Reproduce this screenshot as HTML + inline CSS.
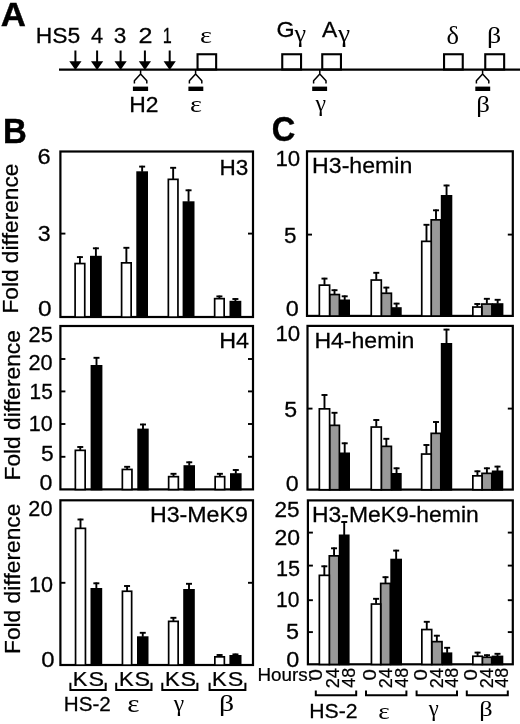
<!DOCTYPE html>
<html><head><meta charset="utf-8"><title>Figure</title>
<style>
html,body{margin:0;padding:0;background:#fff}
svg{display:block}
text{font-size:20px;fill:#000;font-kerning:none}
.ss{stroke:#000;stroke-width:0.25}
.ss{font-family:"Liberation Sans",Arial,Helvetica,sans-serif}
.se{font-family:"Liberation Serif","DejaVu Serif",serif}
.b{font-weight:bold}
</style></head><body>
<svg width="520" height="724" viewBox="0 0 520 724" stroke="#000">
<rect x="0" y="0" width="520" height="724" fill="#fff" stroke="none"/>
<g>
<line x1="59.00" y1="69.60" x2="520.00" y2="69.60" stroke-width="2.40"/>
<line x1="75.40" y1="50.50" x2="75.40" y2="63.00" stroke-width="2.00"/>
<path d="M69.30 61.3 H81.50 L75.40 70.00 Z" fill="#000" stroke="none"/>
<line x1="97.10" y1="50.50" x2="97.10" y2="63.00" stroke-width="2.00"/>
<path d="M91.00 61.3 H103.20 L97.10 70.00 Z" fill="#000" stroke="none"/>
<line x1="120.60" y1="50.50" x2="120.60" y2="63.00" stroke-width="2.00"/>
<path d="M114.50 61.3 H126.70 L120.60 70.00 Z" fill="#000" stroke="none"/>
<line x1="144.90" y1="50.50" x2="144.90" y2="63.00" stroke-width="2.00"/>
<path d="M138.80 61.3 H151.00 L144.90 70.00 Z" fill="#000" stroke="none"/>
<line x1="169.70" y1="50.50" x2="169.70" y2="63.00" stroke-width="2.00"/>
<path d="M163.60 61.3 H175.80 L169.70 70.00 Z" fill="#000" stroke="none"/>
<rect x="197.55" y="54.25" width="18.60" height="15.30" fill="none" stroke-width="2.10"/>
<rect x="282.25" y="54.25" width="18.80" height="15.30" fill="none" stroke-width="2.10"/>
<rect x="322.25" y="54.25" width="18.70" height="15.30" fill="none" stroke-width="2.10"/>
<rect x="444.05" y="54.25" width="18.70" height="15.30" fill="none" stroke-width="2.10"/>
<rect x="485.25" y="54.25" width="18.90" height="15.30" fill="none" stroke-width="2.10"/>
<path d="M140.60 69.60 V74 M134.40 83.6 V80.8 L140.60 73.9 L146.80 80.8 V83.6" fill="none" stroke-width="1.5" stroke-linejoin="round"/>
<rect x="132.90" y="86.60" width="15.20" height="4.40" fill="#000" stroke="none"/>
<path d="M195.60 69.60 V74 M189.40 83.6 V80.8 L195.60 73.9 L201.80 80.8 V83.6" fill="none" stroke-width="1.5" stroke-linejoin="round"/>
<rect x="188.40" y="86.60" width="14.90" height="4.40" fill="#000" stroke="none"/>
<path d="M319.80 69.60 V74 M313.60 83.6 V80.8 L319.80 73.9 L326.00 80.8 V83.6" fill="none" stroke-width="1.5" stroke-linejoin="round"/>
<rect x="312.20" y="86.60" width="14.90" height="4.40" fill="#000" stroke="none"/>
<path d="M482.60 69.60 V74 M476.40 83.6 V80.8 L482.60 73.9 L488.80 80.8 V83.6" fill="none" stroke-width="1.5" stroke-linejoin="round"/>
<rect x="475.30" y="86.60" width="14.90" height="4.40" fill="#000" stroke="none"/>
<rect x="60.40" y="151.50" width="192.60" height="165.50" fill="none" stroke-width="2.2"/>
<line x1="60.40" y1="233.60" x2="65.40" y2="233.60" stroke-width="1.90"/>
<line x1="248.00" y1="233.60" x2="253.00" y2="233.60" stroke-width="1.90"/>
<line x1="79.92" y1="256.30" x2="79.92" y2="263.20" stroke-width="1.90"/>
<line x1="76.92" y1="257.10" x2="82.92" y2="257.10" stroke-width="1.90"/>
<rect x="75.10" y="263.55" width="9.65" height="53.60" fill="#fff" stroke-width="1.70"/>
<line x1="95.90" y1="247.50" x2="95.90" y2="256.30" stroke-width="1.90"/>
<line x1="92.90" y1="248.30" x2="98.90" y2="248.30" stroke-width="1.90"/>
<rect x="90.00" y="255.80" width="11.80" height="62.20" fill="#000" stroke="none"/>
<line x1="126.38" y1="247.00" x2="126.38" y2="262.50" stroke-width="1.90"/>
<line x1="123.38" y1="247.80" x2="129.38" y2="247.80" stroke-width="1.90"/>
<rect x="121.60" y="262.85" width="9.55" height="54.30" fill="#fff" stroke-width="1.70"/>
<line x1="142.15" y1="165.80" x2="142.15" y2="171.80" stroke-width="1.90"/>
<line x1="139.15" y1="166.60" x2="145.15" y2="166.60" stroke-width="1.90"/>
<rect x="136.30" y="171.30" width="11.70" height="146.70" fill="#000" stroke="none"/>
<line x1="173.15" y1="167.00" x2="173.15" y2="179.00" stroke-width="1.90"/>
<line x1="170.15" y1="167.80" x2="176.15" y2="167.80" stroke-width="1.90"/>
<rect x="168.35" y="179.35" width="9.60" height="137.80" fill="#fff" stroke-width="1.70"/>
<line x1="188.55" y1="189.50" x2="188.55" y2="201.80" stroke-width="1.90"/>
<line x1="185.55" y1="190.30" x2="191.55" y2="190.30" stroke-width="1.90"/>
<rect x="182.60" y="201.30" width="11.90" height="116.70" fill="#000" stroke="none"/>
<line x1="219.40" y1="295.60" x2="219.40" y2="298.30" stroke-width="1.90"/>
<line x1="216.40" y1="296.40" x2="222.40" y2="296.40" stroke-width="1.90"/>
<rect x="214.65" y="298.65" width="9.50" height="18.50" fill="#fff" stroke-width="1.70"/>
<line x1="235.40" y1="298.20" x2="235.40" y2="301.30" stroke-width="1.90"/>
<line x1="232.40" y1="299.00" x2="238.40" y2="299.00" stroke-width="1.90"/>
<rect x="229.50" y="300.80" width="11.80" height="17.20" fill="#000" stroke="none"/>
<rect x="60.40" y="326.00" width="192.60" height="163.40" fill="none" stroke-width="2.2"/>
<line x1="60.40" y1="359.00" x2="65.40" y2="359.00" stroke-width="1.90"/>
<line x1="248.00" y1="359.00" x2="253.00" y2="359.00" stroke-width="1.90"/>
<line x1="60.40" y1="391.40" x2="65.40" y2="391.40" stroke-width="1.90"/>
<line x1="248.00" y1="391.40" x2="253.00" y2="391.40" stroke-width="1.90"/>
<line x1="60.40" y1="424.00" x2="65.40" y2="424.00" stroke-width="1.90"/>
<line x1="248.00" y1="424.00" x2="253.00" y2="424.00" stroke-width="1.90"/>
<line x1="60.40" y1="456.80" x2="65.40" y2="456.80" stroke-width="1.90"/>
<line x1="248.00" y1="456.80" x2="253.00" y2="456.80" stroke-width="1.90"/>
<line x1="80.25" y1="446.20" x2="80.25" y2="450.00" stroke-width="1.90"/>
<line x1="77.25" y1="447.00" x2="83.25" y2="447.00" stroke-width="1.90"/>
<rect x="75.35" y="450.35" width="9.80" height="39.20" fill="#fff" stroke-width="1.70"/>
<line x1="96.50" y1="357.00" x2="96.50" y2="365.50" stroke-width="1.90"/>
<line x1="93.50" y1="357.80" x2="99.50" y2="357.80" stroke-width="1.90"/>
<rect x="90.60" y="365.00" width="11.80" height="125.40" fill="#000" stroke="none"/>
<line x1="127.15" y1="466.00" x2="127.15" y2="469.10" stroke-width="1.90"/>
<line x1="124.15" y1="466.80" x2="130.15" y2="466.80" stroke-width="1.90"/>
<rect x="122.35" y="469.45" width="9.60" height="20.10" fill="#fff" stroke-width="1.70"/>
<line x1="143.00" y1="423.70" x2="143.00" y2="429.10" stroke-width="1.90"/>
<line x1="140.00" y1="424.50" x2="146.00" y2="424.50" stroke-width="1.90"/>
<rect x="137.30" y="428.60" width="11.40" height="61.80" fill="#000" stroke="none"/>
<line x1="173.50" y1="473.00" x2="173.50" y2="476.30" stroke-width="1.90"/>
<line x1="170.50" y1="473.80" x2="176.50" y2="473.80" stroke-width="1.90"/>
<rect x="168.65" y="476.65" width="9.70" height="12.90" fill="#fff" stroke-width="1.70"/>
<line x1="189.25" y1="461.50" x2="189.25" y2="465.70" stroke-width="1.90"/>
<line x1="186.25" y1="462.30" x2="192.25" y2="462.30" stroke-width="1.90"/>
<rect x="183.50" y="465.20" width="11.50" height="25.20" fill="#000" stroke="none"/>
<line x1="219.90" y1="473.00" x2="219.90" y2="476.30" stroke-width="1.90"/>
<line x1="216.90" y1="473.80" x2="222.90" y2="473.80" stroke-width="1.90"/>
<rect x="215.15" y="476.65" width="9.50" height="12.90" fill="#fff" stroke-width="1.70"/>
<line x1="235.80" y1="469.20" x2="235.80" y2="473.70" stroke-width="1.90"/>
<line x1="232.80" y1="470.00" x2="238.80" y2="470.00" stroke-width="1.90"/>
<rect x="230.00" y="473.20" width="11.60" height="17.20" fill="#000" stroke="none"/>
<rect x="60.40" y="500.30" width="192.60" height="164.70" fill="none" stroke-width="2.2"/>
<line x1="60.40" y1="582.80" x2="65.40" y2="582.80" stroke-width="1.90"/>
<line x1="248.00" y1="582.80" x2="253.00" y2="582.80" stroke-width="1.90"/>
<line x1="80.50" y1="518.70" x2="80.50" y2="528.00" stroke-width="1.90"/>
<line x1="77.50" y1="519.50" x2="83.50" y2="519.50" stroke-width="1.90"/>
<rect x="75.55" y="528.35" width="9.90" height="136.80" fill="#fff" stroke-width="1.70"/>
<line x1="96.35" y1="582.50" x2="96.35" y2="588.50" stroke-width="1.90"/>
<line x1="93.35" y1="583.30" x2="99.35" y2="583.30" stroke-width="1.90"/>
<rect x="90.50" y="588.00" width="11.70" height="78.00" fill="#000" stroke="none"/>
<line x1="127.05" y1="585.20" x2="127.05" y2="590.90" stroke-width="1.90"/>
<line x1="124.05" y1="586.00" x2="130.05" y2="586.00" stroke-width="1.90"/>
<rect x="122.45" y="591.25" width="9.20" height="73.90" fill="#fff" stroke-width="1.70"/>
<line x1="142.75" y1="632.00" x2="142.75" y2="636.80" stroke-width="1.90"/>
<line x1="139.75" y1="632.80" x2="145.75" y2="632.80" stroke-width="1.90"/>
<rect x="137.00" y="636.30" width="11.50" height="29.70" fill="#000" stroke="none"/>
<line x1="173.40" y1="617.00" x2="173.40" y2="621.00" stroke-width="1.90"/>
<line x1="170.40" y1="617.80" x2="176.40" y2="617.80" stroke-width="1.90"/>
<rect x="168.65" y="621.35" width="9.50" height="43.80" fill="#fff" stroke-width="1.70"/>
<line x1="189.00" y1="583.00" x2="189.00" y2="589.50" stroke-width="1.90"/>
<line x1="186.00" y1="583.80" x2="192.00" y2="583.80" stroke-width="1.90"/>
<rect x="183.20" y="589.00" width="11.60" height="77.00" fill="#000" stroke="none"/>
<line x1="219.60" y1="654.20" x2="219.60" y2="656.50" stroke-width="1.90"/>
<line x1="216.60" y1="655.00" x2="222.60" y2="655.00" stroke-width="1.90"/>
<rect x="214.85" y="656.85" width="9.50" height="8.30" fill="#fff" stroke-width="1.70"/>
<line x1="235.45" y1="653.60" x2="235.45" y2="655.50" stroke-width="1.90"/>
<line x1="232.45" y1="654.40" x2="238.45" y2="654.40" stroke-width="1.90"/>
<rect x="229.40" y="655.00" width="12.10" height="11.00" fill="#000" stroke="none"/>
<path d="M70.40 682.8 V689.9 H105.70 V682.8" fill="none" stroke-width="2"/>
<path d="M116.20 682.8 V689.9 H151.50 V682.8" fill="none" stroke-width="2"/>
<path d="M162.30 682.8 V689.9 H197.40 V682.8" fill="none" stroke-width="2"/>
<path d="M209.60 682.8 V689.9 H245.40 V682.8" fill="none" stroke-width="2"/>
<rect x="307.00" y="151.30" width="205.80" height="164.60" fill="none" stroke-width="2.2"/>
<line x1="307.00" y1="234.60" x2="312.00" y2="234.60" stroke-width="1.90"/>
<line x1="507.80" y1="234.60" x2="512.80" y2="234.60" stroke-width="1.90"/>
<line x1="344.70" y1="295.50" x2="344.70" y2="300.00" stroke-width="1.90"/>
<line x1="341.70" y1="296.30" x2="347.70" y2="296.30" stroke-width="1.90"/>
<rect x="339.40" y="299.50" width="10.60" height="17.40" fill="#000" stroke="none"/>
<line x1="396.55" y1="302.80" x2="396.55" y2="307.70" stroke-width="1.90"/>
<line x1="393.55" y1="303.60" x2="399.55" y2="303.60" stroke-width="1.90"/>
<rect x="391.40" y="307.20" width="10.30" height="9.70" fill="#000" stroke="none"/>
<line x1="446.55" y1="184.70" x2="446.55" y2="195.50" stroke-width="1.90"/>
<line x1="443.55" y1="185.50" x2="449.55" y2="185.50" stroke-width="1.90"/>
<rect x="440.80" y="195.00" width="11.50" height="121.90" fill="#000" stroke="none"/>
<line x1="497.65" y1="299.00" x2="497.65" y2="303.70" stroke-width="1.90"/>
<line x1="494.65" y1="299.80" x2="500.65" y2="299.80" stroke-width="1.90"/>
<rect x="491.90" y="303.20" width="11.50" height="13.70" fill="#000" stroke="none"/>
<line x1="334.50" y1="289.40" x2="334.50" y2="294.20" stroke-width="1.90"/>
<line x1="331.50" y1="290.20" x2="337.50" y2="290.20" stroke-width="1.90"/>
<rect x="329.60" y="294.55" width="9.80" height="21.50" fill="#999" stroke-width="1.70"/>
<line x1="386.35" y1="286.80" x2="386.35" y2="292.90" stroke-width="1.90"/>
<line x1="383.35" y1="287.60" x2="389.35" y2="287.60" stroke-width="1.90"/>
<rect x="381.30" y="293.25" width="10.10" height="22.80" fill="#999" stroke-width="1.70"/>
<line x1="436.00" y1="209.50" x2="436.00" y2="219.50" stroke-width="1.90"/>
<line x1="433.00" y1="210.30" x2="439.00" y2="210.30" stroke-width="1.90"/>
<rect x="431.20" y="219.85" width="9.60" height="96.20" fill="#999" stroke-width="1.70"/>
<line x1="486.85" y1="298.00" x2="486.85" y2="303.70" stroke-width="1.90"/>
<line x1="483.85" y1="298.80" x2="489.85" y2="298.80" stroke-width="1.90"/>
<rect x="481.80" y="304.05" width="10.10" height="12.00" fill="#999" stroke-width="1.70"/>
<line x1="324.48" y1="277.80" x2="324.48" y2="284.80" stroke-width="1.90"/>
<line x1="321.48" y1="278.60" x2="327.48" y2="278.60" stroke-width="1.90"/>
<rect x="319.35" y="285.15" width="10.25" height="30.90" fill="#fff" stroke-width="1.70"/>
<line x1="376.27" y1="272.00" x2="376.27" y2="279.70" stroke-width="1.90"/>
<line x1="373.27" y1="272.80" x2="379.27" y2="272.80" stroke-width="1.90"/>
<rect x="371.25" y="280.05" width="10.05" height="36.00" fill="#fff" stroke-width="1.70"/>
<line x1="426.48" y1="224.00" x2="426.48" y2="241.00" stroke-width="1.90"/>
<line x1="423.48" y1="224.80" x2="429.48" y2="224.80" stroke-width="1.90"/>
<rect x="421.75" y="241.35" width="9.45" height="74.70" fill="#fff" stroke-width="1.70"/>
<line x1="477.33" y1="303.20" x2="477.33" y2="306.70" stroke-width="1.90"/>
<line x1="474.33" y1="304.00" x2="480.33" y2="304.00" stroke-width="1.90"/>
<rect x="472.85" y="307.05" width="8.95" height="9.00" fill="#fff" stroke-width="1.70"/>
<rect x="307.50" y="325.90" width="205.30" height="163.70" fill="none" stroke-width="2.2"/>
<line x1="307.50" y1="408.60" x2="312.50" y2="408.60" stroke-width="1.90"/>
<line x1="507.80" y1="408.60" x2="512.80" y2="408.60" stroke-width="1.90"/>
<line x1="344.70" y1="442.50" x2="344.70" y2="453.00" stroke-width="1.90"/>
<line x1="341.70" y1="443.30" x2="347.70" y2="443.30" stroke-width="1.90"/>
<rect x="339.40" y="452.50" width="10.60" height="38.10" fill="#000" stroke="none"/>
<line x1="396.55" y1="467.50" x2="396.55" y2="473.50" stroke-width="1.90"/>
<line x1="393.55" y1="468.30" x2="399.55" y2="468.30" stroke-width="1.90"/>
<rect x="391.40" y="473.00" width="10.30" height="17.60" fill="#000" stroke="none"/>
<line x1="446.50" y1="328.80" x2="446.50" y2="343.50" stroke-width="1.90"/>
<line x1="443.50" y1="329.60" x2="449.50" y2="329.60" stroke-width="1.90"/>
<rect x="440.80" y="343.00" width="11.40" height="147.60" fill="#000" stroke="none"/>
<line x1="497.50" y1="465.80" x2="497.50" y2="471.00" stroke-width="1.90"/>
<line x1="494.50" y1="466.60" x2="500.50" y2="466.60" stroke-width="1.90"/>
<rect x="491.80" y="470.50" width="11.40" height="20.10" fill="#000" stroke="none"/>
<line x1="334.50" y1="412.00" x2="334.50" y2="425.00" stroke-width="1.90"/>
<line x1="331.50" y1="412.80" x2="337.50" y2="412.80" stroke-width="1.90"/>
<rect x="329.60" y="425.35" width="9.80" height="64.40" fill="#999" stroke-width="1.70"/>
<line x1="386.35" y1="438.00" x2="386.35" y2="446.00" stroke-width="1.90"/>
<line x1="383.35" y1="438.80" x2="389.35" y2="438.80" stroke-width="1.90"/>
<rect x="381.30" y="446.35" width="10.10" height="43.40" fill="#999" stroke-width="1.70"/>
<line x1="436.00" y1="421.20" x2="436.00" y2="433.00" stroke-width="1.90"/>
<line x1="433.00" y1="422.00" x2="439.00" y2="422.00" stroke-width="1.90"/>
<rect x="431.20" y="433.35" width="9.60" height="56.40" fill="#999" stroke-width="1.70"/>
<line x1="486.90" y1="467.50" x2="486.90" y2="473.00" stroke-width="1.90"/>
<line x1="483.90" y1="468.30" x2="489.90" y2="468.30" stroke-width="1.90"/>
<rect x="482.00" y="473.35" width="9.80" height="16.40" fill="#999" stroke-width="1.70"/>
<line x1="324.48" y1="394.20" x2="324.48" y2="408.50" stroke-width="1.90"/>
<line x1="321.48" y1="395.00" x2="327.48" y2="395.00" stroke-width="1.90"/>
<rect x="319.35" y="408.85" width="10.25" height="80.90" fill="#fff" stroke-width="1.70"/>
<line x1="376.27" y1="419.20" x2="376.27" y2="426.70" stroke-width="1.90"/>
<line x1="373.27" y1="420.00" x2="379.27" y2="420.00" stroke-width="1.90"/>
<rect x="371.25" y="427.05" width="10.05" height="62.70" fill="#fff" stroke-width="1.70"/>
<line x1="426.43" y1="444.20" x2="426.43" y2="453.70" stroke-width="1.90"/>
<line x1="423.43" y1="445.00" x2="429.43" y2="445.00" stroke-width="1.90"/>
<rect x="421.65" y="454.05" width="9.55" height="35.70" fill="#fff" stroke-width="1.70"/>
<line x1="477.43" y1="470.50" x2="477.43" y2="475.50" stroke-width="1.90"/>
<line x1="474.43" y1="471.30" x2="480.43" y2="471.30" stroke-width="1.90"/>
<rect x="472.85" y="475.85" width="9.15" height="13.90" fill="#fff" stroke-width="1.70"/>
<rect x="307.90" y="500.40" width="204.90" height="163.90" fill="none" stroke-width="2.2"/>
<line x1="307.90" y1="532.60" x2="312.90" y2="532.60" stroke-width="1.90"/>
<line x1="507.80" y1="532.60" x2="512.80" y2="532.60" stroke-width="1.90"/>
<line x1="307.90" y1="565.60" x2="312.90" y2="565.60" stroke-width="1.90"/>
<line x1="507.80" y1="565.60" x2="512.80" y2="565.60" stroke-width="1.90"/>
<line x1="307.90" y1="600.20" x2="312.90" y2="600.20" stroke-width="1.90"/>
<line x1="507.80" y1="600.20" x2="512.80" y2="600.20" stroke-width="1.90"/>
<line x1="307.90" y1="632.10" x2="312.90" y2="632.10" stroke-width="1.90"/>
<line x1="507.80" y1="632.10" x2="512.80" y2="632.10" stroke-width="1.90"/>
<line x1="344.20" y1="521.20" x2="344.20" y2="535.00" stroke-width="1.90"/>
<line x1="341.20" y1="522.00" x2="347.20" y2="522.00" stroke-width="1.90"/>
<rect x="338.80" y="534.50" width="10.80" height="130.80" fill="#000" stroke="none"/>
<line x1="396.15" y1="549.80" x2="396.15" y2="559.20" stroke-width="1.90"/>
<line x1="393.15" y1="550.60" x2="399.15" y2="550.60" stroke-width="1.90"/>
<rect x="390.30" y="558.70" width="11.70" height="106.60" fill="#000" stroke="none"/>
<line x1="447.15" y1="647.00" x2="447.15" y2="652.90" stroke-width="1.90"/>
<line x1="444.15" y1="647.80" x2="450.15" y2="647.80" stroke-width="1.90"/>
<rect x="442.00" y="652.40" width="10.30" height="12.90" fill="#000" stroke="none"/>
<line x1="497.50" y1="653.00" x2="497.50" y2="656.10" stroke-width="1.90"/>
<line x1="494.50" y1="653.80" x2="500.50" y2="653.80" stroke-width="1.90"/>
<rect x="491.70" y="655.60" width="11.60" height="9.70" fill="#000" stroke="none"/>
<line x1="334.05" y1="547.50" x2="334.05" y2="555.50" stroke-width="1.90"/>
<line x1="331.05" y1="548.30" x2="337.05" y2="548.30" stroke-width="1.90"/>
<rect x="329.30" y="555.85" width="9.50" height="108.60" fill="#999" stroke-width="1.70"/>
<line x1="385.50" y1="576.40" x2="385.50" y2="583.10" stroke-width="1.90"/>
<line x1="382.50" y1="577.20" x2="388.50" y2="577.20" stroke-width="1.90"/>
<rect x="380.70" y="583.45" width="9.60" height="81.00" fill="#999" stroke-width="1.70"/>
<line x1="436.85" y1="634.90" x2="436.85" y2="641.30" stroke-width="1.90"/>
<line x1="433.85" y1="635.70" x2="439.85" y2="635.70" stroke-width="1.90"/>
<rect x="431.70" y="641.65" width="10.30" height="22.80" fill="#999" stroke-width="1.70"/>
<line x1="487.00" y1="654.40" x2="487.00" y2="656.90" stroke-width="1.90"/>
<line x1="484.00" y1="655.20" x2="490.00" y2="655.20" stroke-width="1.90"/>
<rect x="482.30" y="657.25" width="9.40" height="7.20" fill="#999" stroke-width="1.70"/>
<line x1="324.33" y1="565.50" x2="324.33" y2="575.00" stroke-width="1.90"/>
<line x1="321.33" y1="566.30" x2="327.33" y2="566.30" stroke-width="1.90"/>
<rect x="319.35" y="575.35" width="9.95" height="89.10" fill="#fff" stroke-width="1.70"/>
<line x1="376.08" y1="598.00" x2="376.08" y2="603.70" stroke-width="1.90"/>
<line x1="373.08" y1="598.80" x2="379.08" y2="598.80" stroke-width="1.90"/>
<rect x="371.45" y="604.05" width="9.25" height="60.40" fill="#fff" stroke-width="1.70"/>
<line x1="426.77" y1="621.00" x2="426.77" y2="629.20" stroke-width="1.90"/>
<line x1="423.77" y1="621.80" x2="429.77" y2="621.80" stroke-width="1.90"/>
<rect x="421.85" y="629.55" width="9.85" height="34.90" fill="#fff" stroke-width="1.70"/>
<line x1="477.58" y1="651.80" x2="477.58" y2="655.90" stroke-width="1.90"/>
<line x1="474.58" y1="652.60" x2="480.58" y2="652.60" stroke-width="1.90"/>
<rect x="472.85" y="656.25" width="9.45" height="8.20" fill="#fff" stroke-width="1.70"/>
<path d="M315.80 690.5 V695.3 H356.20 V690.5" fill="none" stroke-width="2"/>
<path d="M366.00 690.5 V695.3 H406.40 V690.5" fill="none" stroke-width="2"/>
<path d="M416.60 690.5 V695.3 H457.00 V690.5" fill="none" stroke-width="2"/>
<path d="M466.80 690.5 V695.3 H507.80 V690.5" fill="none" stroke-width="2"/>
</g>
<g stroke="none">
<text class="ss b" transform="matrix(1.741 0 0 1.699 0.6504 26.09)">A</text>
<text class="ss b" transform="matrix(1.647 0 0 1.727 3.102 142.9)">B</text>
<text class="ss b" transform="matrix(1.628 0 0 1.77 271.7 140.6)">C</text>
<text class="ss" transform="matrix(1.145 0 0 1.105 35.76 42.85)">HS5</text>
<text class="ss" transform="matrix(1.089 0 0 1.105 90.89 42.86)">4</text>
<text class="ss" transform="matrix(1.13 0 0 1.105 113.8 42.85)">3</text>
<text class="ss" transform="matrix(1.255 0 0 1.105 138.4 42.86)">2</text>
<text class="ss" transform="matrix(0.8114 0 0 1.105 162.8 42.86)">1</text>
<text class="se" transform="matrix(1.418 0 0 1.112 199.9 42.98)">ε</text>
<text class="ss" transform="matrix(1.165 0 0 1.105 276.5 36.85)">G</text>
<text class="se" transform="matrix(1.308 0 0 1.209 294.5 42.35)">γ</text>
<text class="ss" transform="matrix(1.147 0 0 1.105 322.1 36.76)">A</text>
<text class="se" transform="matrix(1.368 0 0 1.209 338 42.35)">γ</text>
<text class="se" transform="matrix(1.326 0 0 1.235 446.5 43.51)">δ</text>
<text class="se" transform="matrix(1.4 0 0 1.145 486.9 43.12)">β</text>
<text class="ss" transform="matrix(1.144 0 0 1.105 129.3 112.4)">H2</text>
<text class="se" transform="matrix(1.418 0 0 1.196 189.9 112.3)">ε</text>
<text class="se" transform="matrix(1.189 0 0 1.172 315.5 111.3)">γ</text>
<text class="se" transform="matrix(1.344 0 0 1.194 476.2 111.6)">β</text>
<text class="ss" transform="matrix(1.182 0 0 1.105 37.45 164.2)">6</text>
<text class="ss" transform="matrix(1.161 0 0 1.105 37.76 241.2)">3</text>
<text class="ss" transform="matrix(1.223 0 0 1.105 37.95 316.4)">0</text>
<text class="ss" transform="matrix(1.09 0 0 1.105 28.54 342.1)">25</text>
<text class="ss" transform="matrix(1.086 0 0 1.105 28.54 370.1)">20</text>
<text class="ss" transform="matrix(1.043 0 0 1.105 29.54 399.1)">15</text>
<text class="ss" transform="matrix(1.08 0 0 1.105 28.69 430.7)">10</text>
<text class="ss" transform="matrix(1.141 0 0 1.105 41.03 461.3)">5</text>
<text class="ss" transform="matrix(1.162 0 0 1.105 39.44 490.4)">0</text>
<text class="ss" transform="matrix(1.086 0 0 1.105 28.34 516.2)">20</text>
<text class="ss" transform="matrix(1.08 0 0 1.105 29.09 592.2)">10</text>
<text class="ss" transform="matrix(1.198 0 0 1.105 41.21 666.9)">0</text>
<text class="ss" transform="matrix(0 -1.133 1.083 0 18.4 313.5)">Fold difference</text>
<text class="ss" transform="matrix(0 -1.137 1.105 0 19.8 480.5)">Fold difference</text>
<text class="ss" transform="matrix(0 -1.136 1.119 0 20.1 654)">Fold difference</text>
<text class="ss" transform="matrix(1.127 0 0 1.105 219.5 174.7)">H3</text>
<text class="ss" transform="matrix(1.166 0 0 1.105 219.2 348.4)">H4</text>
<text class="ss" transform="matrix(1.16 0 0 1.105 149.9 522)">H3-MeK9</text>
<text class="ss" transform="matrix(1.1 0 0 0.9957 72.83 685.7)">K</text>
<text class="ss" transform="matrix(1.165 0 0 0.9957 88.39 685.7)">S</text>
<text class="ss" transform="matrix(1.1 0 0 0.9957 118.9 685.7)">K</text>
<text class="ss" transform="matrix(1.165 0 0 0.9957 134.5 685.7)">S</text>
<text class="ss" transform="matrix(1.1 0 0 0.9957 164.9 685.7)">K</text>
<text class="ss" transform="matrix(1.165 0 0 0.9957 180.5 685.7)">S</text>
<text class="ss" transform="matrix(1.1 0 0 0.9957 212.1 685.7)">K</text>
<text class="ss" transform="matrix(1.165 0 0 0.9957 227.7 685.7)">S</text>
<text class="ss" transform="matrix(1.031 0 0 1.032 63.74 711.2)">HS-2</text>
<text class="se" transform="matrix(1.447 0 0 1.248 127.2 712.3)">ε</text>
<text class="se" transform="matrix(1.177 0 0 1.153 173.8 710.6)">γ</text>
<text class="se" transform="matrix(1.493 0 0 1.172 219.1 710.5)">β</text>
<text class="ss" transform="matrix(1.114 0 0 1.105 275.4 165.9)">10</text>
<text class="ss" transform="matrix(1.12 0 0 1.105 284.1 242.8)">5</text>
<text class="ss" transform="matrix(1.172 0 0 1.105 285.7 316.1)">0</text>
<text class="ss" transform="matrix(1.114 0 0 1.105 275.4 340.5)">10</text>
<text class="ss" transform="matrix(1.156 0 0 1.105 284.2 416.6)">5</text>
<text class="ss" transform="matrix(1.162 0 0 1.105 285.7 490.9)">0</text>
<text class="ss" transform="matrix(1.128 0 0 1.105 274.5 517.2)">25</text>
<text class="ss" transform="matrix(1.149 0 0 1.105 274.5 545.2)">20</text>
<text class="ss" transform="matrix(1.083 0 0 1.105 276 575.5)">15</text>
<text class="ss" transform="matrix(1.05 0 0 1.105 276 606.8)">10</text>
<text class="ss" transform="matrix(1.171 0 0 1.105 286.1 638.9)">5</text>
<text class="ss" transform="matrix(1.172 0 0 1.105 286.2 667.3)">0</text>
<text class="ss" transform="matrix(1.156 0 0 1.105 312.1 173.4)">H3-hemin</text>
<text class="ss" transform="matrix(1.153 0 0 1.105 314.4 347.9)">H4-hemin</text>
<text class="ss" transform="matrix(1.146 0 0 1.105 312 522.3)">H3-MeK9-hemin</text>
<text class="ss" transform="matrix(0.9427 0 0 0.9593 257.4 681.1)">Hours:</text>
<text class="ss" transform="matrix(0 -1.019 0.8721 0 322.2 680.5)">0</text>
<text class="ss" transform="matrix(0 -0.9137 0.8721 0 339 688.3)">24</text>
<text class="ss" transform="matrix(0 -0.9023 0.8721 0 355.4 687.8)">48</text>
<text class="ss" transform="matrix(0 -1.019 0.8721 0 375.9 680.5)">0</text>
<text class="ss" transform="matrix(0 -0.9137 0.8721 0 391.9 688.3)">24</text>
<text class="ss" transform="matrix(0 -0.9023 0.8721 0 407.5 687.8)">48</text>
<text class="ss" transform="matrix(0 -1.019 0.8721 0 427 680.5)">0</text>
<text class="ss" transform="matrix(0 -0.9137 0.8721 0 442.7 688.3)">24</text>
<text class="ss" transform="matrix(0 -0.9023 0.8721 0 457.5 687.8)">48</text>
<text class="ss" transform="matrix(0 -1.019 0.8721 0 477.4 680.5)">0</text>
<text class="ss" transform="matrix(0 -0.9137 0.8721 0 493.3 688.3)">24</text>
<text class="ss" transform="matrix(0 -0.9023 0.8721 0 508.1 687.8)">48</text>
<text class="ss" transform="matrix(1.061 0 0 1.054 309.2 718.2)">HS-2</text>
<text class="se" transform="matrix(1.362 0 0 1.112 378.3 718.5)">ε</text>
<text class="se" transform="matrix(1.13 0 0 1.153 428.8 715.6)">γ</text>
<text class="se" transform="matrix(1.319 0 0 1.036 479.3 716.1)">β</text>
</g>
</svg>
</body></html>
